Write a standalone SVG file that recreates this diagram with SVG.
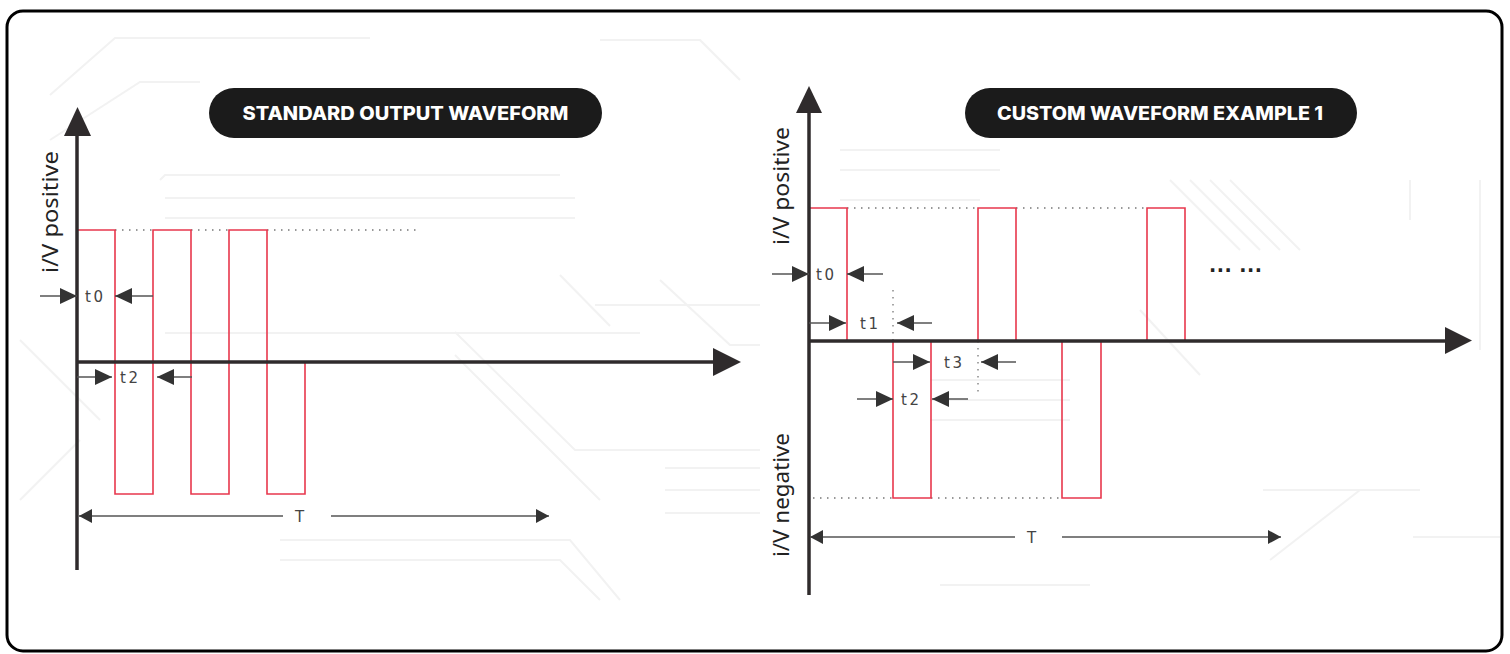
<svg xmlns="http://www.w3.org/2000/svg" width="1510" height="654" viewBox="0 0 1510 654">
  <style>
    .bg { stroke: #f2f2f2; stroke-width: 2; fill: none; }
    .axis { stroke: #2f2b2c; stroke-width: 3.5; fill: none; }
    .wave { stroke: #e8374d; stroke-width: 1.6; fill: none; }
    .dot { stroke: #777; stroke-width: 1.3; stroke-dasharray: 1.5 5.5; fill: none; }
    .dim { stroke: #555; stroke-width: 1.6; fill: none; }
    .lbl { font-family: "DejaVu Sans", "Liberation Sans", sans-serif; font-size: 15px; fill: #444; letter-spacing: 2.5px; }
    .axlbl { font-family: "Noto Sans", "Liberation Sans", sans-serif; font-size: 21px; fill: #222; }
    .pill { fill: #1b1b1b; }
    .ptxt { font-family: Inter, "Noto Sans", sans-serif; font-weight: 800; font-size: 18.5px; fill: #ffffff; }
  </style>
  <defs>
    <marker id="dimhead" markerUnits="userSpaceOnUse" markerWidth="18" markerHeight="16" refX="17" refY="8" orient="auto">
      <path d="M0,0 L17,8 L0,16 z" fill="#333"/>
    </marker>
    <marker id="thead" markerUnits="userSpaceOnUse" markerWidth="14" markerHeight="14" refX="13" refY="7" orient="auto">
      <path d="M0,0 L13,7 L0,14 z" fill="#333"/>
    </marker>
  </defs>

  <rect width="1510" height="654" fill="#ffffff"/>

  <!-- faint background circuit lines -->
  <g id="background">
    <path class="bg" d="M50,95 L115,38 L370,38"/>
    <path class="bg" d="M50,140 L140,82 L200,82"/>
    <path class="bg" d="M160,180 L165,175 L560,175"/>
    <path class="bg" d="M165,198 L575,198"/>
    <path class="bg" d="M165,218 L575,218"/>
    <path class="bg" d="M165,333 L640,333"/>
    <path class="bg" d="M455,332 L575,450 L760,450"/>
    <path class="bg" d="M455,355 L600,500"/>
    <path class="bg" d="M560,275 L610,326"/>
    <path class="bg" d="M660,280 L730,345 L760,345"/>
    <path class="bg" d="M595,305 L760,305"/>
    <path class="bg" d="M665,468 L760,468"/>
    <path class="bg" d="M665,490 L760,490"/>
    <path class="bg" d="M665,513 L760,513"/>
    <path class="bg" d="M80,440 L20,500"/>
    <path class="bg" d="M100,420 L20,340"/>
    <path class="bg" d="M280,540 L570,540 L620,600"/>
    <path class="bg" d="M280,560 L560,560 L600,600"/>
    <path class="bg" d="M600,40 L700,40 L740,80"/>
    <path class="bg" d="M840,170 L1000,170"/>
    <path class="bg" d="M840,150 L1000,150"/>
    <path class="bg" d="M840,200 L980,200"/>
    <path class="bg" d="M930,380 L1070,380"/>
    <path class="bg" d="M930,400 L1070,400"/>
    <path class="bg" d="M930,420 L1070,420"/>
    <path class="bg" d="M940,585 L1090,585"/>
    <path class="bg" d="M1170,180 L1240,250"/>
    <path class="bg" d="M1190,180 L1260,250"/>
    <path class="bg" d="M1210,180 L1280,250"/>
    <path class="bg" d="M1230,180 L1300,250"/>
    <path class="bg" d="M1140,310 L1200,375"/>
    <path class="bg" d="M1263,490 L1420,490"/>
    <path class="bg" d="M1270,560 L1360,490"/>
    <path class="bg" d="M1413,537 L1500,537"/>
    <path class="bg" d="M1410,180 L1410,220"/>
    <path class="bg" d="M1480,180 L1480,350"/>
  </g>

  <!-- outer frame -->
  <rect id="frame" x="7" y="11" width="1495" height="640" rx="16" ry="16" fill="none" stroke="#000" stroke-width="3"/>

  <!-- titles -->
  <g id="title-left">
    <rect class="pill" x="209" y="88" width="393" height="50" rx="25" ry="25"/>
    <text class="ptxt" x="405.5" y="119.5" text-anchor="middle" textLength="326" lengthAdjust="spacingAndGlyphs">STANDARD OUTPUT WAVEFORM</text>
  </g>
  <g id="title-right">
    <rect class="pill" x="965" y="88" width="392" height="50" rx="25" ry="25"/>
    <text class="ptxt" x="1160" y="119.5" text-anchor="middle" textLength="326" lengthAdjust="spacingAndGlyphs">CUSTOM WAVEFORM EXAMPLE 1</text>
  </g>

  <!-- LEFT CHART -->
  <g id="chart-left">
    <line class="dot" x1="115" y1="230" x2="153" y2="230"/>
    <line class="dot" x1="191" y1="230" x2="229" y2="230"/>
    <line class="dot" x1="267" y1="230" x2="416" y2="230"/>
    <polyline class="wave" points="77,230 115,230 115,494 153,494 153,230 191,230 191,494 229,494 229,230 267,230 267,494 305,494 305,362"/>
    <line class="axis" x1="77" y1="570" x2="77" y2="130"/>
    <path d="M64,136 L77.5,107 L91,136 z" fill="#2f2b2c"/>
    <line class="axis" x1="77" y1="362" x2="716" y2="362"/>
    <path d="M713,348 L741,362 L713,376 z" fill="#2f2b2c"/>
    <text class="axlbl" transform="translate(58,212) rotate(-90)" text-anchor="middle" textLength="122" lengthAdjust="spacingAndGlyphs">i/V positive</text>
    <text class="lbl" x="85" y="302">t0</text>
    <text class="lbl" x="120" y="383">t2</text>
    <text class="lbl" x="295" y="522" letter-spacing="0">T</text>
  </g>

  <!-- RIGHT CHART -->
  <g id="chart-right">
    <line class="dot" x1="847" y1="208" x2="978" y2="208"/>
    <line class="dot" x1="1016" y1="208" x2="1147" y2="208"/>
    <line class="dot" x1="813" y1="498" x2="893" y2="498"/>
    <line class="dot" x1="931" y1="498" x2="1062" y2="498"/>
    <line class="dot" x1="893" y1="290" x2="893" y2="341"/>
    <line class="dot" x1="978" y1="341" x2="978" y2="397"/>
    <polyline class="wave" points="809,208 847,208 847,341 893,341 893,498 931,498 931,341 978,341 978,208 1016,208 1016,341 1062,341 1062,498 1101,498 1101,341 1147,341 1147,208 1185,208 1185,341"/>
    <line class="axis" x1="809" y1="595" x2="809" y2="110"/>
    <path d="M796,113 L809,86 L822,113 z" fill="#2f2b2c"/>
    <line class="axis" x1="809" y1="341" x2="1448" y2="341"/>
    <path d="M1445,327 L1472,340.5 L1445,354 z" fill="#2f2b2c"/>
    <text class="axlbl" transform="translate(789,186) rotate(-90)" text-anchor="middle" textLength="118" lengthAdjust="spacingAndGlyphs">i/V positive</text>
    <text class="axlbl" transform="translate(789,495) rotate(-90)" text-anchor="middle" textLength="124" lengthAdjust="spacingAndGlyphs">i/V negative</text>
    <text class="lbl" x="816" y="280">t0</text>
    <text class="lbl" x="860" y="329">t1</text>
    <text class="lbl" x="944" y="368">t3</text>
    <text class="lbl" x="901" y="405">t2</text>
    <text class="lbl" x="1027" y="543" letter-spacing="0">T</text>
    <text x="1209" y="272" font-family="DejaVu Sans, sans-serif" font-weight="bold" font-size="19" fill="#222" letter-spacing="0.5">... ...</text>
  </g>

  <!-- dimension connectors -->
  <g id="connectors">
    <line class="dim" x1="40" y1="296" x2="77" y2="296" marker-end="url(#dimhead)"/>
    <line class="dim" x1="153" y1="296" x2="115" y2="296" marker-end="url(#dimhead)"/>
    <line class="dim" x1="77" y1="377" x2="112" y2="377" marker-end="url(#dimhead)"/>
    <line class="dim" x1="192" y1="377" x2="157" y2="377" marker-end="url(#dimhead)"/>
    <line class="dim" x1="283" y1="516" x2="79" y2="516" marker-end="url(#thead)"/>
    <line class="dim" x1="331" y1="516" x2="549" y2="516" marker-end="url(#thead)"/>

    <line class="dim" x1="772" y1="274" x2="809" y2="274" marker-end="url(#dimhead)"/>
    <line class="dim" x1="883" y1="274" x2="847" y2="274" marker-end="url(#dimhead)"/>
    <line class="dim" x1="809" y1="323" x2="846" y2="323" marker-end="url(#dimhead)"/>
    <line class="dim" x1="932" y1="323" x2="897" y2="323" marker-end="url(#dimhead)"/>
    <line class="dim" x1="893" y1="362" x2="930" y2="362" marker-end="url(#dimhead)"/>
    <line class="dim" x1="1016" y1="362" x2="981" y2="362" marker-end="url(#dimhead)"/>
    <line class="dim" x1="857" y1="399" x2="893" y2="399" marker-end="url(#dimhead)"/>
    <line class="dim" x1="968" y1="399" x2="932" y2="399" marker-end="url(#dimhead)"/>
    <line class="dim" x1="1015" y1="537" x2="810" y2="537" marker-end="url(#thead)"/>
    <line class="dim" x1="1062" y1="537" x2="1281" y2="537" marker-end="url(#thead)"/>
  </g>
</svg>
